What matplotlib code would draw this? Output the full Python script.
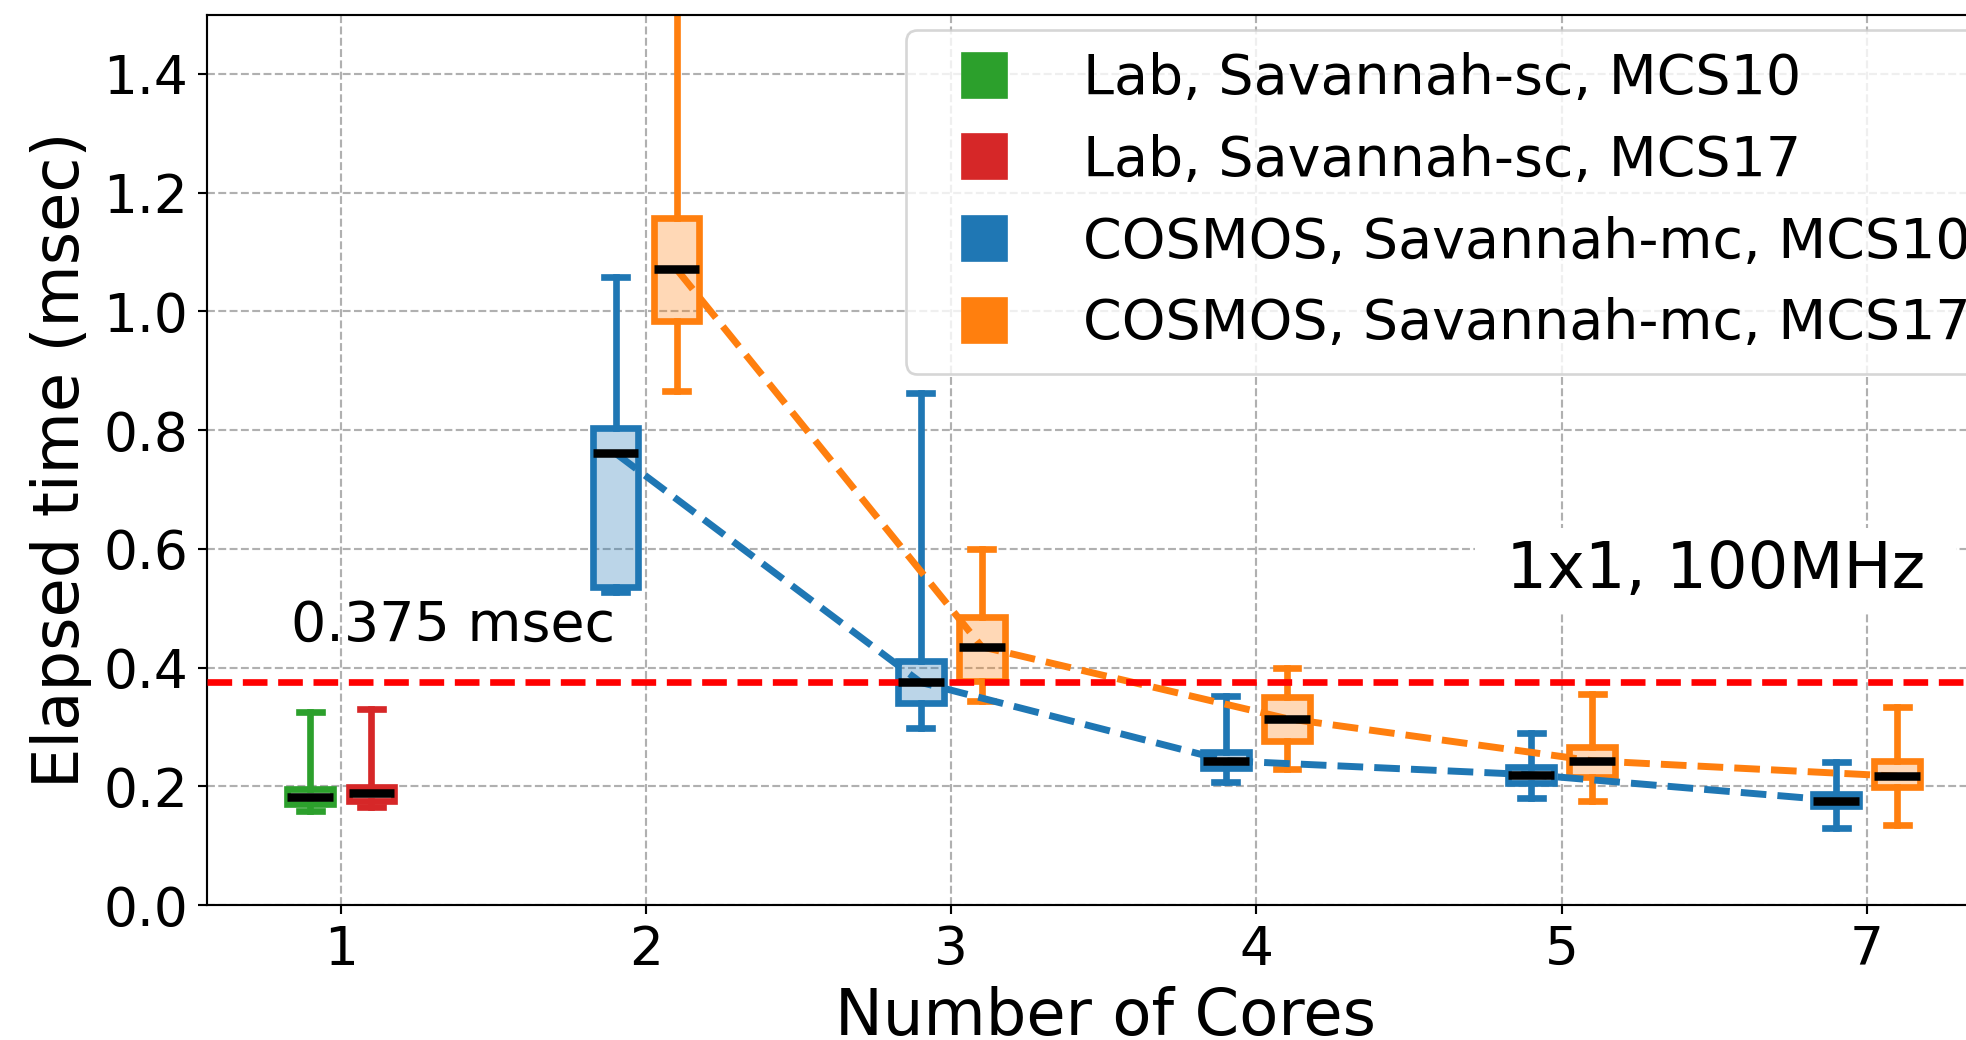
import matplotlib
matplotlib.use("Agg")
import matplotlib.pyplot as plt
from matplotlib.lines import Line2D

# x categories (number of cores)
core_labels = ["1", "2", "3", "4", "5", "7"]

# Lab, Savannah-sc (only 1 core)
lab10_stats = [0.158, 0.170, 0.182, 0.195, 0.325]   # whislo, q1, med, q3, whishi
lab17_stats = [0.165, 0.175, 0.188, 0.199, 0.331]

# COSMOS, Savannah-mc for cores 2,3,4,5,7
cos10_whislo = [0.527, 0.298, 0.207, 0.181, 0.130]
cos10_q1 = [0.536, 0.341, 0.230, 0.206, 0.166]
cos10_med = [0.761, 0.375, 0.243, 0.2195, 0.176]
cos10_q3 = [0.804, 0.411, 0.257, 0.232, 0.187]
cos10_whishi = [1.058, 0.863, 0.352, 0.289, 0.241]

cos17_whislo = [0.866, 0.343, 0.229, 0.176, 0.135]
cos17_q1 = [0.983, 0.378, 0.277, 0.216, 0.199]
cos17_med = [1.071, 0.435, 0.314, 0.243, 0.217]
cos17_q3 = [1.158, 0.486, 0.351, 0.266, 0.243]
cos17_whishi = [1.70, 0.600, 0.400, 0.355, 0.333]

deadline = 0.375

labels = ["Lab, Savannah-sc, MCS10", "Lab, Savannah-sc, MCS17",
          "COSMOS, Savannah-mc, MCS10", "COSMOS, Savannah-mc, MCS17"]
colors = ["#2ca02c", "#d62728", "#1f77b4", "#ff7f0e"]


def make_stats(wl, q1, med, q3, wh):
    return [dict(whislo=a, q1=b, med=c, q3=d, whishi=e, fliers=[])
            for a, b, c, d, e in zip(wl, q1, med, q3, wh)]


def draw_boxes(ax, stats, pos, color):
    bp = ax.bxp(stats, positions=pos, widths=0.15, patch_artist=True,
                showfliers=False,
                boxprops=dict(facecolor=color, edgecolor=color, linewidth=2.5),
                whiskerprops=dict(color=color, linewidth=2.5),
                capprops=dict(color=color, linewidth=2.5),
                medianprops=dict(color="black", linewidth=3.2, zorder=4))
    for b in bp["boxes"]:
        b.set_facecolor(matplotlib.colors.to_rgba(color, 0.3))
        b.set_edgecolor(color)
    return bp


fig = plt.figure(figsize=(1966 / 192, 1040 / 192), dpi=192)
ax = fig.add_axes([0.1051, 0.1298, 0.9143, 0.8562])

off = 0.1
x_mc = [i + 2 for i in range(len(cos10_med))]

draw_boxes(ax, make_stats(*[[v] for v in lab10_stats]), [1 - off], colors[0])
draw_boxes(ax, make_stats(*[[v] for v in lab17_stats]), [1 + off], colors[1])
draw_boxes(ax, make_stats(cos10_whislo, cos10_q1, cos10_med, cos10_q3, cos10_whishi),
           [x - off for x in x_mc], colors[2])
draw_boxes(ax, make_stats(cos17_whislo, cos17_q1, cos17_med, cos17_q3, cos17_whishi),
           [x + off for x in x_mc], colors[3])

# median trend lines
ax.plot([x - off for x in x_mc], cos10_med, "--", color=colors[2], lw=2.6, zorder=3)
ax.plot([x + off for x in x_mc], cos17_med, "--", color=colors[3], lw=2.6, zorder=3)

ax.axhline(deadline, color="red", linestyle="--", lw=2.5, zorder=3)
ax.text(0.838, 0.4447, "%.3f msec" % deadline, fontsize=20.8, ha="left", va="baseline")
ax.text(5.505, 0.5336, " 1x1, 100MHz ", fontsize=24, ha="center", va="baseline",
        bbox=dict(facecolor="white", edgecolor="none"), zorder=5)

ax.set_xlim(0.56, 6.45)
ax.set_ylim(0, 1.5)
ax.set_xticks(range(1, len(core_labels) + 1))
ax.set_xticklabels(core_labels)
ax.tick_params(labelsize=20)
ax.set_xlabel("Number of Cores", fontsize=24)
ax.set_ylabel("Elapsed time (msec)", fontsize=24)
ax.grid(True, linestyle="--")
ax.set_axisbelow(True)

handles = [Line2D([], [], marker="s", linestyle="none", color=c, markersize=16.5)
           for c in colors]
ax.legend(handles, labels, fontsize=20.8, loc="upper left",
          bbox_to_anchor=(0.4608, 0.9712), bbox_transform=fig.transFigure,
          borderaxespad=0)

fig.savefig("out.png", dpi=192)
